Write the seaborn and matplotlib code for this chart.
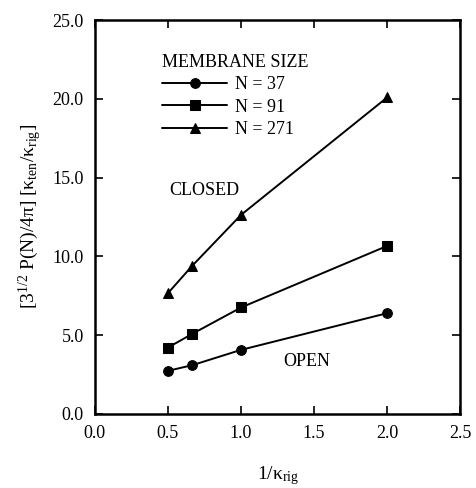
import matplotlib
matplotlib.use("Agg")
import matplotlib.pyplot as plt
import seaborn as sns
import pandas as pd

inv_k = [0.5, 0.667, 1.0, 2.0]
n37 = [2.73, 3.09, 4.06, 6.39]
n91 = [4.21, 5.08, 6.75, 10.66]
n271 = [7.66, 9.41, 12.63, 20.09]
series_names = ["N = 37", "N = 91", "N = 271"]

rows = []
for name, vals in zip(series_names, [n37, n91, n271]):
    for x, y in zip(inv_k, vals):
        rows.append({"x": x, "y": y, "series": name})
df = pd.DataFrame(rows)

sns.set_style("ticks")
plt.rcParams["font.family"] = ["Liberation Serif", "DejaVu Serif"]
plt.rcParams["mathtext.fontset"] = "custom"
plt.rcParams["mathtext.rm"] = "Liberation Serif"
plt.rcParams["mathtext.it"] = "Liberation Serif:italic"
plt.rcParams["text.color"] = "black"
plt.rcParams["axes.labelcolor"] = "black"
plt.rcParams["xtick.color"] = "black"
plt.rcParams["ytick.color"] = "black"
plt.rcParams["axes.edgecolor"] = "black"

fig = plt.figure(figsize=(4.77, 4.88), dpi=100)
ax = fig.add_axes([0.199, 0.152, 0.766, 0.807])

sns.lineplot(data=df, x="x", y="y", hue="series", style="series",
             palette=["black"] * 3, markers=["o", "s", "^"], dashes=False,
             markersize=7, markeredgecolor="black", linewidth=1.4, ax=ax)

ax.set_xlim(0, 2.5)
ax.set_ylim(0, 25)
ax.set_xticks([0.0, 0.5, 1.0, 1.5, 2.0, 2.5])
ax.set_xticklabels(["0.0", "0.5", "1.0", "1.5", "2.0", "2.5"])
ax.set_yticks([0, 5, 10, 15, 20, 25])
ax.set_yticklabels(["0.0", "5.0", "10.0", "15.0", "20.0", "25.0"])
ax.tick_params(direction="in", top=True, right=True, length=6, width=1.2,
               labelsize=13, pad=8)
for s in ax.spines.values():
    s.set_linewidth(1.8)

ax.set_xlabel(r"1/$\mathrm{\kappa_{rig}}$", fontsize=14, labelpad=16)
ax.set_ylabel(r"[3$^{1/2}$ P(N)/4$\mathrm{\pi}$] [$\mathrm{\kappa_{ten}}$/$\mathrm{\kappa_{rig}}$]",
              fontsize=14, labelpad=6)

leg = ax.legend(title="MEMBRANE SIZE", loc="upper left",
                bbox_to_anchor=(0.14, 0.955), frameon=False, fontsize=13,
                title_fontsize=13, handlelength=3.6, labelspacing=0.3,
                handletextpad=0.4)
leg._legend_box.align = "left"

ax.text(0.51, 14.2, "CLOSED", fontsize=13, va="center")
ax.text(1.29, 3.3, "OPEN", fontsize=13, va="center")

fig.savefig("out.png", dpi=100)
